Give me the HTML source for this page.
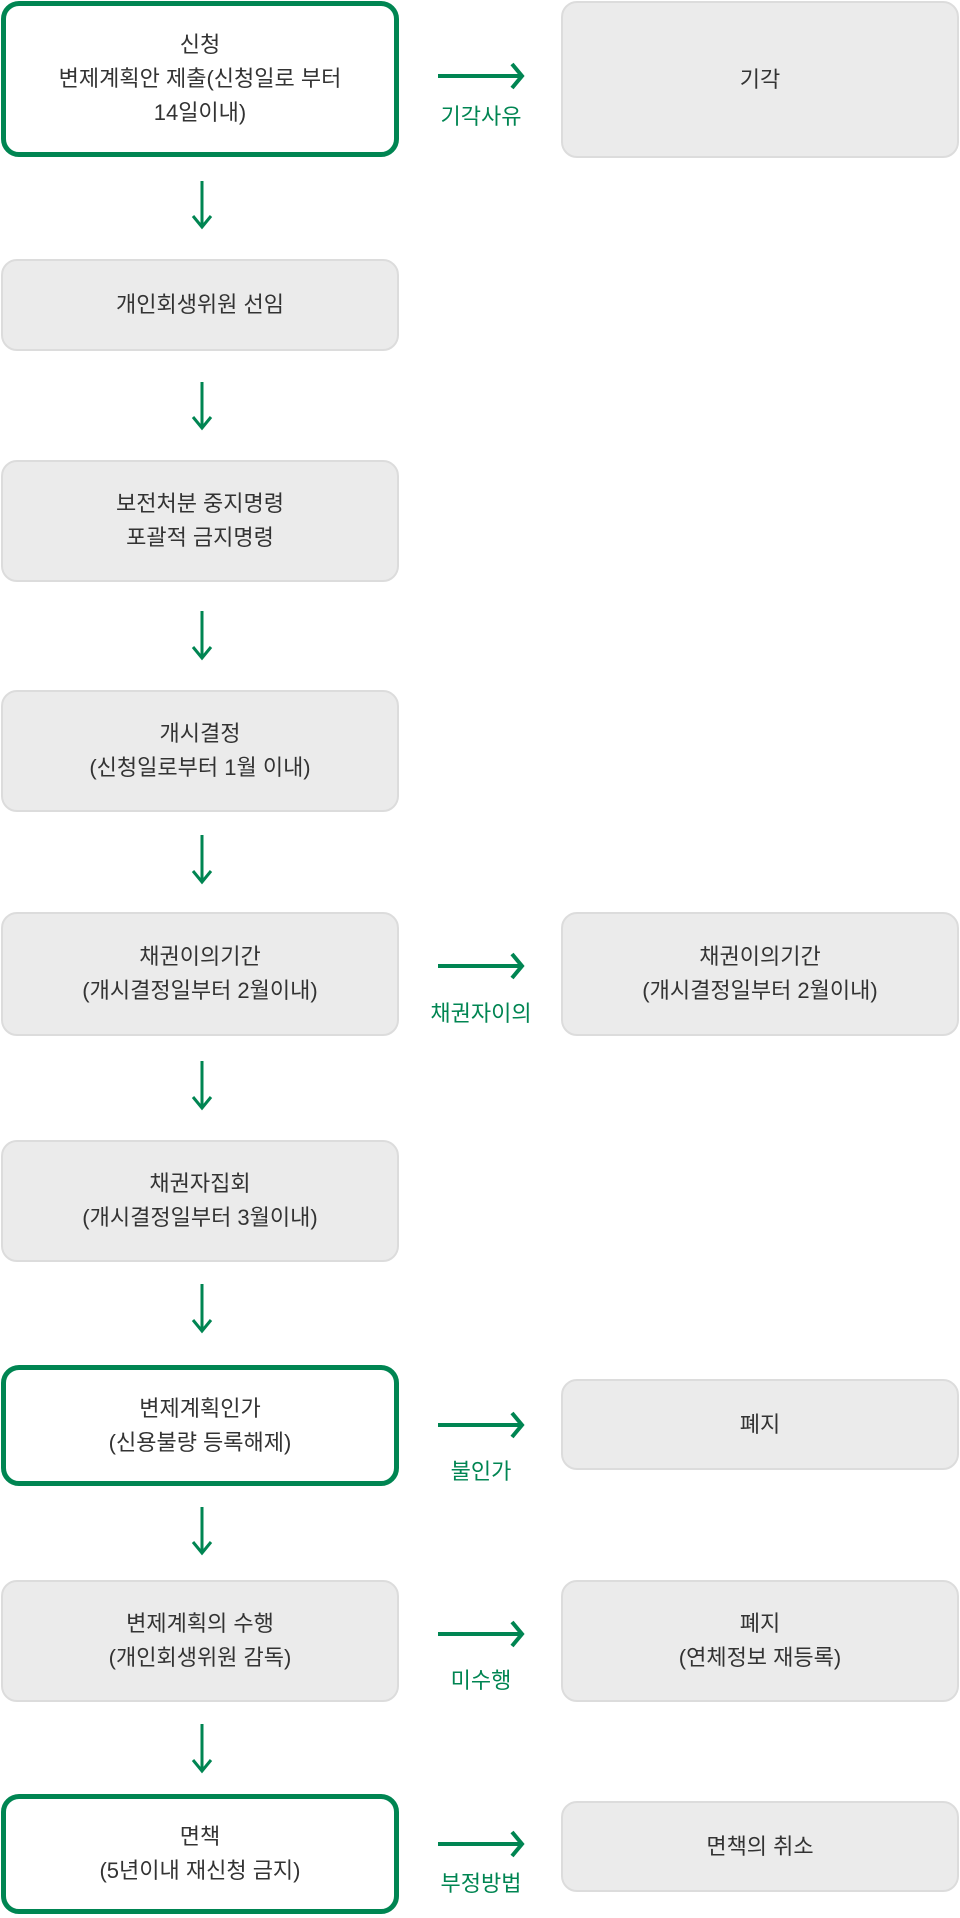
<!DOCTYPE html>
<html><head><meta charset="utf-8"><style>
body{margin:0;width:960px;height:1918px;background:#fff;position:relative;font-family:"Liberation Sans","Noto Sans CJK KR",sans-serif;color:#333;overflow:hidden}
.b{position:absolute;box-sizing:border-box;display:flex;align-items:center;justify-content:center;text-align:center;font-size:22px;line-height:34px;border-radius:16px;background:#ebebeb;border:2px solid #dcdcdc}
.g{background:#fff;border:5px solid #008552;border-radius:18px}
.L{left:1px;width:398px}.R{left:561px;width:398px}
.lab{position:absolute;left:421px;width:120px;text-align:center;color:#008552;font-size:22px;line-height:26px}
svg{position:absolute;left:0;top:0}
</style></head><body>
<div class="b g L" style="top:1px;height:156px">신청<br>변제계획안 제출(신청일로 부터<br>14일이내)</div>
<div class="b R" style="top:1px;height:157px">기각</div>
<div class="b L" style="top:259px;height:92px">개인회생위원 선임</div>
<div class="b L" style="top:460px;height:122px">보전처분 중지명령<br>포괄적 금지명령</div>
<div class="b L" style="top:690px;height:122px">개시결정<br>(신청일로부터 1월 이내)</div>
<div class="b L" style="top:912px;height:124px">채권이의기간<br>(개시결정일부터 2월이내)</div>
<div class="b R" style="top:912px;height:124px">채권이의기간<br>(개시결정일부터 2월이내)</div>
<div class="b L" style="top:1140px;height:122px">채권자집회<br>(개시결정일부터 3월이내)</div>
<div class="b g L" style="top:1365px;height:121px">변제계획인가<br>(신용불량 등록해제)</div>
<div class="b R" style="top:1379px;height:91px">폐지</div>
<div class="b L" style="top:1580px;height:122px">변제계획의 수행<br>(개인회생위원 감독)</div>
<div class="b R" style="top:1580px;height:122px">폐지<br>(연체정보 재등록)</div>
<div class="b g L" style="top:1794px;height:120px">면책<br>(5년이내 재신청 금지)</div>
<div class="b R" style="top:1801px;height:91px">면책의 취소</div>
<div class="lab" style="top:104px">기각사유</div>
<div class="lab" style="top:1001px">채권자이의</div>
<div class="lab" style="top:1459px">불인가</div>
<div class="lab" style="top:1668px">미수행</div>
<div class="lab" style="top:1871px">부정방법</div>
<svg width="960" height="1918" fill="none" stroke="#008552" stroke-width="3">
<g>
<path d="M202 181V227M193 216L202 227L211 216"/>
<path d="M202 382V428M193 417L202 428L211 417"/>
<path d="M202 611V658M193 647L202 658L211 647"/>
<path d="M202 835V882M193 871L202 882L211 871"/>
<path d="M202 1061V1108M193 1097L202 1108L211 1097"/>
<path d="M202 1284V1331M193 1320L202 1331L211 1320"/>
<path d="M202 1507V1553M193 1542L202 1553L211 1542"/>
<path d="M202 1724V1771M193 1760L202 1771L211 1760"/>
</g>
<g stroke-width="4">
<path d="M438 76H521M512 64L522 76L512 88"/>
<path d="M438 966H521M512 954L522 966L512 978"/>
<path d="M438 1425H521M512 1413L522 1425L512 1437"/>
<path d="M438 1634H521M512 1622L522 1634L512 1646"/>
<path d="M438 1844H521M512 1832L522 1844L512 1856"/>
</g>
</svg>
</body></html>
